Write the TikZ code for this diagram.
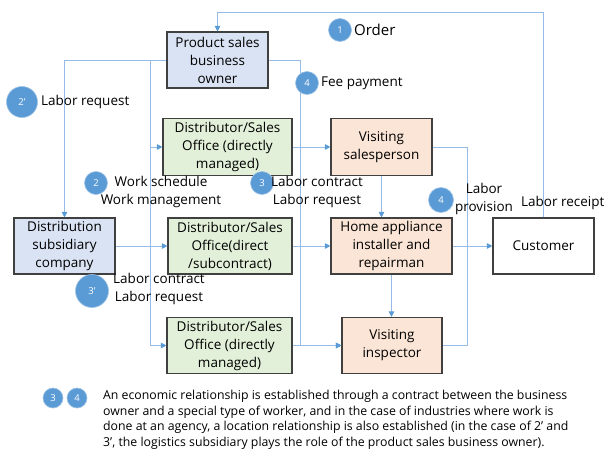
\documentclass[tikz,border=0pt]{standalone}
\usepackage{fontspec}
\setmainfont{Open Sans}
\usetikzlibrary{arrows.meta}
\definecolor{boxblue}{RGB}{218,227,243}
\definecolor{boxgreen}{RGB}{226,240,217}
\definecolor{boxpeach}{RGB}{251,229,214}
\definecolor{edge}{RGB}{64,64,64}
\definecolor{conn}{RGB}{150,187,230}
\definecolor{tipc}{RGB}{91,155,213}
\definecolor{badge}{RGB}{91,155,213}
\tikzset{
  box/.style={draw=edge, line width=1.1pt, inner sep=0pt, align=center,
    font=\fontsize{13.5}{18}\selectfont},
  bluebox/.style={box, fill=boxblue},
  greenbox/.style={box, fill=boxgreen},
  peachbox/.style={box, fill=boxpeach},
  whitebox/.style={box, fill=white},
  conline/.style={draw=conn, line width=0.9pt},
  arr/.style={conline, -{Triangle[length=5.5pt,width=5.5pt,color=tipc]}},
  badgec/.style={circle, fill=badge, draw=badge!60!white, line width=0.6pt, inner sep=0pt,
    text=white, font=\fontsize{9.5}{9.5}\selectfont},
  lbl/.style={inner sep=0pt, align=center, font=\fontsize{13.5}{18}\selectfont},
}
\begin{document}
\begin{tikzpicture}[x=1pt,y=-1pt]
\useasboundingbox (0,0) rectangle (605,455);
% boxes
\node[bluebox, minimum width=101pt, minimum height=56pt] (ps) at (217.5,60) {Product sales\\business\\owner};
\node[greenbox, minimum width=129pt, minimum height=57pt] (d1) at (227.5,147) {Distributor/Sales\\Office (directly\\managed)};
\node[peachbox, minimum width=101pt, minimum height=57pt] (vs) at (381.5,147) {Visiting\\salesperson};
\node[bluebox, minimum width=101pt, minimum height=56pt] (ds) at (64.5,246) {Distribution\\subsidiary\\company};
\node[greenbox, minimum width=124pt, minimum height=56pt] (d2) at (230,246) {Distributor/Sales\\Office(direct\\/subcontract)};
\node[peachbox, minimum width=121pt, minimum height=56pt] (ha) at (391.5,246) {Home appliance\\installer and\\repairman};
\node[whitebox, minimum width=101pt, minimum height=56pt] (cu) at (543.5,246) {Customer};
\node[greenbox, minimum width=125pt, minimum height=56pt] (d3) at (229.5,345.5) {Distributor/Sales\\Office (directly\\managed)};
\node[peachbox, minimum width=100pt, minimum height=56pt] (vi) at (392,345.5) {Visiting\\inspector};
% connectors
\coordinate (b1) at (150,60);
\coordinate (b2) at (300,345.5);
\coordinate (b3) at (467,345.5);
\draw[arr] (cu.north) -- ++(0,-205) -| (ps.north);
\draw[arr] (ps.west) -| (ds.north);
\draw[arr] (b1) |- (d1.west);
\draw[arr] (b1) |- (d3.west);
\draw[arr] (ps.east) -| (b2) -- (vi.west);
\draw[arr] (d3.east) -- (vi.west);
\draw[arr] (d1.east) -- (vs.west);
\draw[arr] (ds.east) -- (d2.west);
\draw[arr] (d2.east) -- (ha.west);
\draw[arr] (vs.south) -- (vs.south |- ha.north);
\draw[arr] (ha.south) -- (ha.south |- vi.north);
\draw[arr] (ha.east) -- (cu.west);
\draw[conline] (vs.east) -| (b3) -- (vi.east);
% labels
\node[badgec, minimum size=23pt] (c1) at (340,30) {1};
\node[lbl, anchor=west, font=\fontsize{15}{18}\selectfont] (t1) at (354,30) {Order};
\node[badgec, minimum size=23pt] (c4a) at (307,83) {4};
\node[lbl, anchor=west] (t4a) at (321,83) {Fee payment};
\node[badgec, minimum size=31pt] (c2p) at (22,102) {2'};
\node[lbl, anchor=west] (t2p) at (41,102) {Labor request};
\node[badgec, minimum size=23pt] (c2) at (96,183) {2};
\node[lbl] (t2) at (161,192) {Work schedule\\Work management};
\node[badgec, minimum size=23pt] (c3) at (262,183) {3};
\node[lbl] (t3) at (317,192) {Labor contract\\Labor request};
\node[badgec, minimum size=25pt] (c4b) at (441,200) {4};
\node[lbl] (t4b) at (484,199) {Labor\\provision};
\node[lbl, anchor=west] (t4r) at (521,203) {Labor receipt};
\node[badgec, minimum size=33pt] (c3p) at (92,291) {3'};
\node[lbl] (t3p) at (159,289) {Labor contract\\Labor request};
% note
\node[badgec, minimum size=20pt] (n3) at (53,398) {3};
\node[badgec, minimum size=20pt] (n4) at (77,398) {4};
\node[inner sep=0pt, anchor=north west, align=left, font=\fontsize{12.3}{15.5}\selectfont] (note) at (103,390)
 {An economic relationship is established through a contract between the business\\
  owner and a special type of worker, and in the case of industries where work is\\
  done at an agency, a location relationship is also established (in the case of 2\textquoteright{} and\\
  3\textquoteright, the logistics subsidiary plays the role of the product sales business owner).};
\end{tikzpicture}
\end{document}
